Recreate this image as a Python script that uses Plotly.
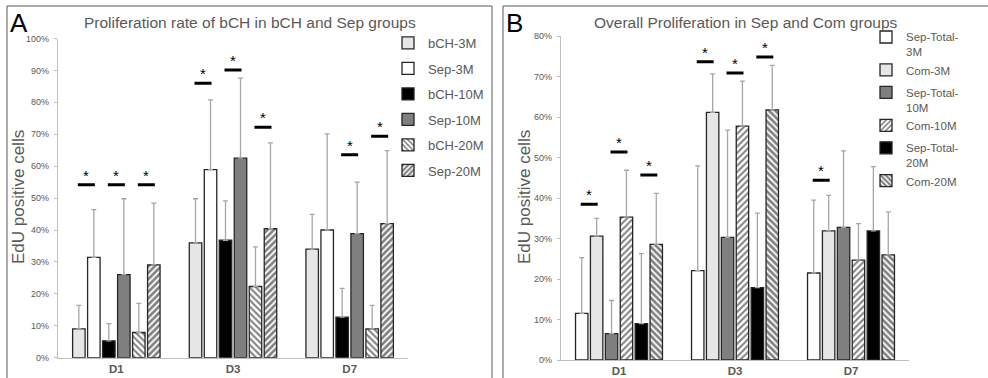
import plotly.graph_objects as go

W, H = 988, 378
FONT = "Liberation Sans"
GREY_TXT = "#595959"
AXIS_COL = "#bfbfbf"
ERR_COL = "#a6a6a6"
EDGE = "#262626"

days = ["D1", "D3", "D7"]

# ---- Panel A: proliferation rate of bCH ----
a_names = ["bCH-3M", "Sep-3M", "bCH-10M", "Sep-10M", "bCH-20M", "Sep-20M"]
a_mean = [
    [0.090, 0.360, 0.340],
    [0.314, 0.589, 0.400],
    [0.053, 0.368, 0.127],
    [0.260, 0.625, 0.389],
    [0.079, 0.223, 0.090],
    [0.291, 0.404, 0.420],
]
a_upper = [
    [0.164, 0.498, 0.449],
    [0.464, 0.808, 0.701],
    [0.107, 0.491, 0.217],
    [0.498, 0.876, 0.550],
    [0.170, 0.347, 0.164],
    [0.484, 0.673, 0.649],
]
# significance marks: (day, pair index, level)
a_sig_day = ["D1", "D1", "D1", "D3", "D3", "D3", "D7", "D7"]
a_sig_pair = [0, 1, 2, 0, 1, 2, 1, 2]
a_sig_level = [0.542, 0.542, 0.542, 0.860, 0.901, 0.722, 0.636, 0.694]

# ---- Panel B: overall proliferation ----
b_names = ["Sep-Total-<br>3M", "Com-3M", "Sep-Total-<br>10M", "Com-10M",
           "Sep-Total-<br>20M", "Com-20M"]
b_mean = [
    [0.115, 0.221, 0.215],
    [0.306, 0.612, 0.319],
    [0.065, 0.303, 0.328],
    [0.353, 0.578, 0.247],
    [0.090, 0.179, 0.319],
    [0.286, 0.618, 0.260],
]
b_upper = [
    [0.253, 0.480, 0.395],
    [0.350, 0.707, 0.407],
    [0.147, 0.568, 0.517],
    [0.469, 0.689, 0.337],
    [0.263, 0.363, 0.478],
    [0.412, 0.728, 0.366],
]
b_sig_day = ["D1", "D1", "D1", "D3", "D3", "D3", "D7"]
b_sig_pair = [0, 1, 2, 0, 1, 2, 0]
b_sig_level = [0.385, 0.514, 0.457, 0.737, 0.709, 0.749, 0.444]

# bar styles
def hatch(shape, solidity):
    return dict(color="#ffffff", pattern=dict(shape=shape, fgcolor="#000000",
                                              bgcolor="#ffffff", size=4.5,
                                              solidity=solidity))

def style(kind):
    fills = {
        "light": dict(color="#e6e6e6"),
        "white": dict(color="#ffffff"),
        "black": dict(color="#000000"),
        "grey": dict(color="#7f7f7f"),
        "back_light": hatch("\\", 0.45),
        "back_dense": hatch("\\", 0.6),
        "fwd_light": hatch("/", 0.45),
        "fwd_dense": hatch("/", 0.6),
    }
    return fills[kind]

a_styles = ["light", "white", "black", "grey", "back_light", "fwd_dense"]
b_styles = ["white", "light", "grey", "fwd_light", "black", "back_dense"]
b_groups = ["g3", "g3", "g10", "g10", "g20", "g20"]

fig = go.Figure()

for i, name in enumerate(a_names):
    fig.add_trace(go.Bar(
        x=days, y=a_mean[i], name=name, xaxis="x", yaxis="y",
        legend="legend", legendgroup="a%d" % i,
        marker=dict(**style(a_styles[i]), line=dict(color=EDGE, width=1.3)),
        error_y=dict(type="data", symmetric=False,
                     array=[u - m for u, m in zip(a_upper[i], a_mean[i])],
                     arrayminus=[0, 0, 0], color=ERR_COL, thickness=1.3, width=2.5),
    ))

for i, name in enumerate(b_names):
    fig.add_trace(go.Bar(
        x=days, y=b_mean[i], name=name, xaxis="x2", yaxis="y2",
        legend="legend2", legendgroup=b_groups[i],
        marker=dict(**style(b_styles[i]), line=dict(color=EDGE, width=1.3)),
        error_y=dict(type="data", symmetric=False,
                     array=[u - m for u, m in zip(b_upper[i], b_mean[i])],
                     arrayminus=[0, 0, 0], color=ERR_COL, thickness=1.3, width=2.5),
    ))

BARGAP = 0.229
slot = (1 - BARGAP) / 6
half_sig = 0.073

shapes = []
annotations = []

def add_sig(days_l, pairs, levels, xr, yr):
    for d, p, lv in zip(days_l, pairs, levels):
        cx = days.index(d) + (p - 1) * 2 * slot
        shapes.append(dict(type="line", xref=xr, yref=yr, x0=cx - half_sig, x1=cx + half_sig,
                           y0=lv, y1=lv, line=dict(color="#000000", width=3)))
        annotations.append(dict(text="*", xref=xr, yref=yr, x=cx, y=lv, showarrow=False,
                                yanchor="bottom", yshift=-1,
                                font=dict(family=FONT, size=15, color="#000000")))

add_sig(a_sig_day, a_sig_pair, a_sig_level, "x", "y")
add_sig(b_sig_day, b_sig_pair, b_sig_level, "x2", "y2")

def px(x):
    return x / W

def py(y):
    return (H - y) / H

# panel frames
for x0, x1 in [(7, 492), (503, 995)]:
    shapes.append(dict(type="rect", xref="paper", yref="paper", x0=px(x0), x1=px(x1),
                       y0=py(395), y1=py(6), line=dict(color=GREY_TXT, width=1),
                       fillcolor="rgba(0,0,0,0)", layer="below"))

# panel letters and titles
for letter, x in [("A", 19), ("B", 514)]:
    annotations.append(dict(text=letter, xref="paper", yref="paper", x=px(x), y=py(22.5),
                            xanchor="center", yanchor="middle", showarrow=False,
                            font=dict(family=FONT, size=26, color="#000000")))
for title, x in [("Proliferation rate of bCH in bCH and Sep groups", 250),
                 ("Overall Proliferation in Sep and Com groups", 745.5)]:
    annotations.append(dict(text=title, xref="paper", yref="paper", x=px(x), y=py(23),
                            xanchor="center", yanchor="middle", showarrow=False,
                            font=dict(family=FONT, size=15.5, color=GREY_TXT)))
for x in [18, 524]:
    annotations.append(dict(text="EdU positive cells", xref="paper", yref="paper",
                            x=px(x), y=py(197), textangle=-90, xanchor="center",
                            yanchor="middle", showarrow=False,
                            font=dict(family=FONT, size=17, color=GREY_TXT)))

xaxis_common = dict(showline=True, linecolor=AXIS_COL, linewidth=1.3, ticks="",
                    showgrid=False, zeroline=False, fixedrange=True, automargin=False,
                    tickfont=dict(family=FONT, size=11.5, color=GREY_TXT, weight="bold"),
                    ticklabelstandoff=0)
yaxis_common = dict(showline=True, linecolor=AXIS_COL, linewidth=1.3, ticks="outside",
                    ticklen=3, tickcolor=AXIS_COL, showgrid=False, zeroline=False,
                    tickformat=".0%", dtick=0.1, fixedrange=True, automargin=False,
                    tickfont=dict(family=FONT, size=9, color=GREY_TXT), ticklabelstandoff=3)

legend_common = dict(bgcolor="rgba(0,0,0,0)", xanchor="left", yanchor="top",
                     traceorder="grouped", itemclick=False, itemdoubleclick=False)

fig.update_layout(
    width=W, height=H, margin=dict(l=0, r=0, t=0, b=0, autoexpand=False),
    paper_bgcolor="#ffffff", plot_bgcolor="#ffffff",
    barmode="group", bargap=BARGAP, bargroupgap=0.167,
    font=dict(family=FONT, color=GREY_TXT),
    xaxis=dict(domain=[px(58), px(408)], anchor="y", **xaxis_common),
    yaxis=dict(domain=[py(357.7), py(38.5)], range=[0, 1], anchor="x", **yaxis_common),
    xaxis2=dict(domain=[px(561), px(909)], anchor="y2", **xaxis_common),
    yaxis2=dict(domain=[py(360), py(36.3)], range=[0, 0.8], anchor="x2", **yaxis_common),
    legend=dict(x=px(388), y=py(28), tracegroupgap=5.6, valign="middle",
                font=dict(family=FONT, size=13, color=GREY_TXT), **legend_common),
    legend2=dict(x=px(866), y=py(23), tracegroupgap=3.5, valign="top",
                 font=dict(family=FONT, size=11.5, color=GREY_TXT), **legend_common),
    shapes=shapes, annotations=annotations,
)

fig.write_html("out.html")
